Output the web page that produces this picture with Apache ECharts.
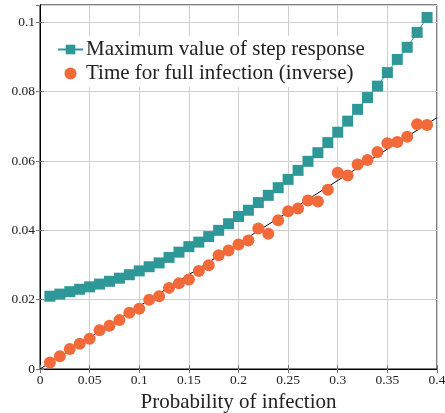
<!DOCTYPE html>
<html>
<head>
<meta charset="utf-8">
<script src="https://cdn.jsdelivr.net/npm/echarts@6/dist/echarts.min.js"></script>
<style>
html,body{margin:0;padding:0;background:#fff;}
#c{width:445px;height:413px;}
</style>
</head>
<body>
<div id="c"></div>
<script>
const probs = [0.01,0.02,0.03,0.04,0.05,0.06,0.07,0.08,0.09,0.10,0.11,0.12,0.13,0.14,0.15,0.16,0.17,0.18,0.19,0.20,0.21,0.22,0.23,0.24,0.25,0.26,0.27,0.28,0.29,0.30,0.31,0.32,0.33,0.34,0.35,0.36,0.37,0.38,0.39];
const maxStepResponse = [0.0210,0.0216,0.0223,0.0230,0.0237,0.0245,0.0253,0.0262,0.0272,0.0283,0.0295,0.0306,0.0322,0.0337,0.0353,0.0366,0.0382,0.0400,0.0419,0.0440,0.0458,0.0480,0.0501,0.0523,0.0547,0.0573,0.0599,0.0624,0.0653,0.0683,0.0715,0.0749,0.0783,0.0816,0.0855,0.0893,0.0928,0.0971,0.1014];
const fullInfectionInv = [0.0019,0.0037,0.0058,0.0073,0.0087,0.0112,0.0125,0.0141,0.0162,0.0174,0.0200,0.0210,0.0234,0.0247,0.0258,0.0283,0.0299,0.0328,0.0342,0.0359,0.0371,0.0405,0.0390,0.0429,0.0455,0.0463,0.0486,0.0483,0.0517,0.0566,0.0558,0.0590,0.0603,0.0626,0.0651,0.0655,0.0670,0.0706,0.0704];
const fitX = [0, 0.4];
const fitY = [0, 0.0725];
const xTicks = [0,0.05,0.1,0.15,0.2,0.25,0.3,0.35,0.4];
const yTicks = [0,0.02,0.04,0.06,0.08,0.1];

const FONT = 'Liberation Serif';
const teal = '#2e9898';
const orange = '#f26a3a';
const zip = (a,b) => a.map((v,i)=>[v,b[i]]);

const chart = echarts.init(document.getElementById('c'), null, {renderer:'canvas'});
const gridLine = {show:true, lineStyle:{color:'#cfcfcf', width:1}};
chart.setOption({
  animation:false,
  backgroundColor:'#fff',
  grid:{left:40, right:8, top:5, bottom:44, show:true, borderColor:'#000', borderWidth:1,
        containLabel:false, outerBoundsMode:'none'},
  xAxis:[{
    type:'value', min:0, max:0.4, interval:0.05,
    axisLine:{show:true, lineStyle:{color:'#000', width:1}},
    axisTick:{show:true, inside:true, length:4, lineStyle:{color:'#777'}},
    axisLabel:{fontFamily:FONT, fontSize:13.5, color:'#222', margin:4,
      formatter:v=>{const t=xTicks.find(x=>Math.abs(x-v)<1e-9); return t===undefined?'':String(t);}},
    splitLine:gridLine,
    name:'Probability of infection', nameLocation:'middle', nameGap:22,
    nameTextStyle:{fontFamily:FONT, fontSize:21, color:'#222'}
  },{
    type:'value', position:'top', min:0, max:0.4, interval:0.05,
    axisLine:{show:true, lineStyle:{color:'#000'}},
    axisTick:{show:true, inside:true, length:4, lineStyle:{color:'#777'}},
    axisLabel:{show:false}, splitLine:{show:false}
  }],
  yAxis:[{
    type:'value', min:0, max:0.105, interval:0.02,
    axisLine:{show:true, lineStyle:{color:'#000', width:1}},
    axisTick:{show:true, inside:true, length:4, lineStyle:{color:'#777'}},
    axisLabel:{fontFamily:FONT, fontSize:13.5, color:'#222', margin:5, showMaxLabel:false,
      formatter:v=>{const t=yTicks.find(x=>Math.abs(x-v)<1e-9); return t===undefined?'':String(t);}},
    splitLine:gridLine
  },{
    type:'value', position:'right', min:0, max:0.105, interval:0.02,
    axisLine:{show:true, lineStyle:{color:'#000'}},
    axisTick:{show:true, inside:true, length:4, lineStyle:{color:'#777'}},
    axisLabel:{show:false}, splitLine:{show:false}
  }],
  legend:{
    orient:'vertical', left:52, top:36,
    backgroundColor:'#fff', padding:[3,5,3,5], itemGap:3,
    itemWidth:25, itemHeight:12,
    textStyle:{fontFamily:FONT, fontSize:21, lineHeight:21, color:'#222', padding:[0,0,0,-2]},
    data:['Maximum value of step response','Time for full infection (inverse)']
  },
  series:[
    {
      name:'fit', type:'line', data:zip(fitX,fitY), showSymbol:false, symbol:'none',
      lineStyle:{color:'#000', width:1}, z:1, silent:true
    },
    {
      name:'Maximum value of step response', type:'line', data:zip(probs,maxStepResponse),
      symbol:'rect', symbolSize:11, itemStyle:{color:teal}, lineStyle:{color:teal, width:1}, z:3
    },
    {
      name:'Time for full infection (inverse)', type:'scatter', data:zip(probs,fullInfectionInv),
      symbol:'circle', symbolSize:12, itemStyle:{color:orange, opacity:1}, z:4
    }
  ]
});
</script>
</body>
</html>
